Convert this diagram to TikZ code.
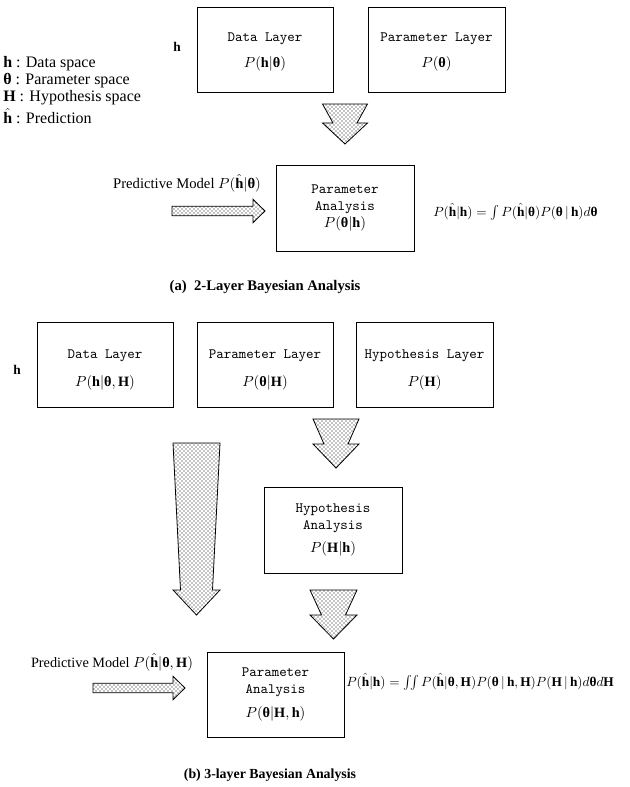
\documentclass[tikz,border=0pt]{standalone}
\usepackage{amsmath}
\usepackage{fontspec}
\setmainfont{Liberation Serif}
\usetikzlibrary{patterns}
\tikzset{
  layerbox/.style={draw, line width=0.7pt, inner sep=0pt, align=center, font=\ttfamily\fontsize{10.7}{13}\selectfont},
  fatfill/.style={draw=black, line width=0.6pt, pattern=crosshatch dots, line join=miter},
  legend/.style={anchor=west, inner sep=0pt, font=\fontsize{12}{14}\selectfont},
  caption/.style={inner sep=0pt, font=\bfseries\fontsize{11}{13}\selectfont},
  formula/.style={anchor=west, inner sep=0pt},
  pics/fatdown/.style n args={4}{code={
    \draw[fatfill] (-#1,0) -- (#1,0) -- (#2,#3) -- (#1,#3) -- (0,#4) -- (-#1,#3) -- (-#2,#3) -- cycle;
  }},
  pics/fatright/.style n args={4}{code={
    \draw[fatfill] (0,-#1) -- (#3,-#1) -- (#3,-#2) -- (#4,0) -- (#3,#2) -- (#3,#1) -- (0,#1) -- cycle;
  }}
}
\newcommand{\bth}{\textnormal{\bfseries θ}}

\begin{document}
\begin{tikzpicture}[x=0.75pt, y=-0.75pt]
  \useasboundingbox (0,0) rectangle (629,787);

  % (a) two layers
  \node[legend] (lgh) at (3,64) {$\mathbf{h}$ : Data space};
  \node[legend] (lgt) at (3,81) {$\bth$ : Parameter space};
  \node[legend] (lgH) at (3,98) {$\mathbf{H}$ : Hypothesis space};
  \node[legend] (lgp) at (3,116) {$\hat{\mathbf{h}}$ : Prediction};

  \node[inner sep=0pt] (hA) at (177,47) {$\mathbf{h}$};
  \node[layerbox, minimum width=136*0.75pt, minimum height=85*0.75pt] (dlayA) at (265,49.5)
    {\rule{0pt}{10pt}Data Layer\\[6pt]$P(\mathbf{h}|\bth)$};
  \node[layerbox, minimum width=137*0.75pt, minimum height=85*0.75pt] (playA) at (436.5,49.5)
    {\rule{0pt}{10pt}Parameter Layer\\[6pt]$P(\bth)$};
  \pic at (345,104) {fatdown={22.5}{12}{19}{40}};

  \node[inner sep=0pt, font=\fontsize{11}{13}\selectfont] (predA) at (187,183) {Predictive Model $P(\hat{\mathbf{h}}|\bth)$};
  \pic at (172,211) {fatright={4.7}{11.7}{81}{93}};
  \node[layerbox, minimum width=138*0.75pt, minimum height=86*0.75pt] (panA) at (345,208)
    {Parameter\\Analysis\\$P(\bth|\mathbf{h})$};
  \node[formula] (eqA) at (433,212)
    {$P(\hat{\mathbf{h}}|\mathbf{h})=\int P(\hat{\mathbf{h}}|\bth)P(\bth\,|\,\mathbf{h})d\bth$};
  \node[caption] (capA) at (265,287) {(a)\ \ 2-Layer Bayesian Analysis};

  % (b) three layers
  \node[inner sep=0pt] (hB) at (17,370) {$\mathbf{h}$};
  \node[layerbox, minimum width=136*0.75pt, minimum height=85*0.75pt] (dlayB) at (105,364.5)
    {\rule{0pt}{14pt}Data Layer\\[8pt]$P(\mathbf{h}|\bth,\mathbf{H})$};
  \node[layerbox, minimum width=136*0.75pt, minimum height=85*0.75pt] (playB) at (265,364.5)
    {\rule{0pt}{14pt}Parameter Layer\\[8pt]$P(\bth|\mathbf{H})$};
  \node[layerbox, minimum width=137*0.75pt, minimum height=85*0.75pt] (hlayB) at (424.5,364.5)
    {\rule{0pt}{14pt}Hypothesis Layer\\[8pt]$P(\mathbf{H})$};
  \pic at (336,419) {fatdown={23}{12}{25}{49}};
  \pic at (196.5,443) {fatdown={23.5}{16}{147}{172}};
  \node[layerbox, minimum width=138*0.75pt, minimum height=86*0.75pt] (hanB) at (333,530)
    {Hypothesis\\Analysis\\[4pt]$P(\mathbf{H}|\mathbf{h})$};
  \pic at (333.5,590) {fatdown={23.5}{12}{25}{49}};

  \node[inner sep=0pt, font=\fontsize{10.7}{13}\selectfont] (predB) at (112,662) {Predictive Model $P(\hat{\mathbf{h}}|\bth,\mathbf{H})$};
  \pic at (93,688) {fatright={4.7}{11.7}{80}{92}};
  \node[layerbox, minimum width=137*0.75pt, minimum height=85*0.75pt] (panB) at (275.5,694.5)
    {Parameter\\Analysis\\[5pt]$P(\bth|\mathbf{H},\mathbf{h})$};
  \node[formula] (eqB) at (346,682)
    {$P(\hat{\mathbf{h}}|\mathbf{h})=\iint P(\hat{\mathbf{h}}|\bth,\mathbf{H})P(\bth\,|\,\mathbf{h},\mathbf{H})P(\mathbf{H}\,|\,\mathbf{h})d\bth d\mathbf{H}$};
  \node[caption, font=\bfseries\fontsize{10.4}{12}\selectfont] (capB) at (270,775) {(b) 3-layer Bayesian Analysis};
\end{tikzpicture}
\end{document}
